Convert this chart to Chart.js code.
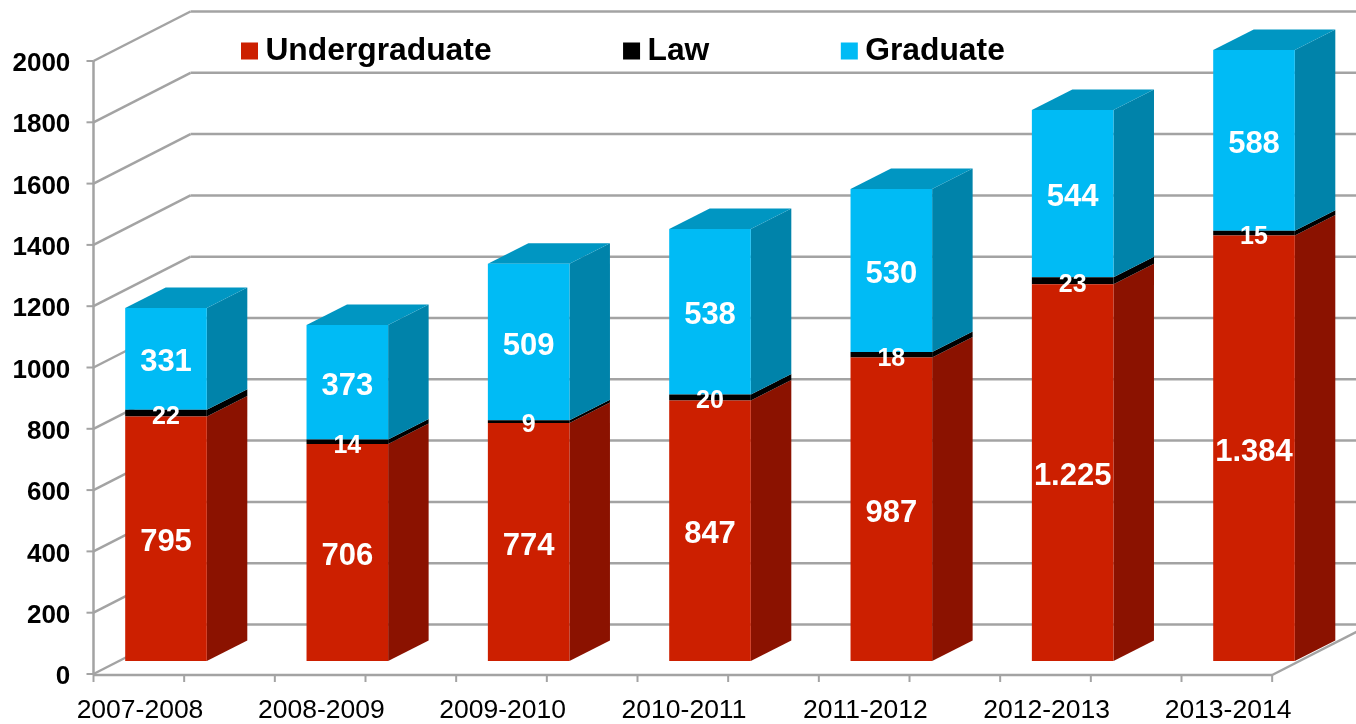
<!DOCTYPE html>
<html>
<head>
<meta charset="utf-8">
<title>Enrollment</title>
<script src="https://cdn.jsdelivr.net/npm/chart.js@4/dist/chart.umd.min.js"></script>
<style>
    html, body { margin: 0; padding: 0; background: #fff; }
    canvas { display: block; }
</style>
</head>
<body>
<canvas id="enrollment" width="1356" height="724"></canvas>
<script>
const years = ['2007-2008', '2008-2009', '2009-2010', '2010-2011', '2011-2012', '2012-2013', '2013-2014'];
const undergraduate = [795, 706, 774, 847, 987, 1225, 1384];
const law = [22, 14, 9, 20, 18, 23, 15];
const graduate = [331, 373, 509, 538, 530, 544, 588];
const yTicks = [0, 200, 400, 600, 800, 1000, 1200, 1400, 1600, 1800, 2000];

// fake 3d: how far the bars and the wall are pushed back
const barDepth = { x: 40.5, y: 20.5 };
const wallDepth = { x: 97, y: 49.5 };
const gridColor = '#a3a3a3';
const fontName = '"Liberation Sans", Arial, sans-serif';

const faces = [
    { front: '#cc1f00', side: '#8b1200', top: '#a31800' },
    { front: '#000000', side: '#000000', top: '#000000' },
    { front: '#00bbf5', side: '#0083aa', top: '#0096c2' }
];

function polygon(ctx, points, color) {
    ctx.fillStyle = color;
    ctx.beginPath();
    points.forEach((p, i) => i ? ctx.lineTo(p[0], p[1]) : ctx.moveTo(p[0], p[1]));
    ctx.closePath();
    ctx.fill();
}

function line(ctx, x1, y1, x2, y2, width) {
    ctx.lineWidth = width;
    ctx.beginPath();
    ctx.moveTo(x1, y1);
    ctx.lineTo(x2, y2);
    ctx.stroke();
}

const box3d = {
    id: 'box3d',
    beforeLayout(chart) {
        // keep the items in one row while the legend lives inside the chart area
        chart.legend.isHorizontal = () => true;
    },
    afterLayout(chart) {
        // the legend sits on the wall, not where the layout puts it
        const legend = chart.legend;
        const shift = 109.5;
        legend.left += shift;
        legend.right += shift;
        legend.top = -105;
        legend.bottom = legend.top + legend.height;
    },
    beforeDraw(chart) {
        // back wall, floor and axis lines
        const ctx = chart.ctx;
        const wall = chart.scales.y2;
        const x = chart.scales.x;
        const axisX = x.getPixelForValue(0) - 72.5;
        const zero = wall.getPixelForValue(0);
        const step = (x.getPixelForValue(1) - x.getPixelForValue(0)) / 2;
        const floorEnd = axisX + step * 13;
        ctx.save();
        ctx.strokeStyle = gridColor;
        yTicks.forEach(v => {
            const y = wall.getPixelForValue(v);
            line(ctx, axisX, y, axisX + wallDepth.x, y - wallDepth.y, 2.5);
            line(ctx, axisX + wallDepth.x, y - wallDepth.y, chart.width, y - wallDepth.y, 2.5);
            line(ctx, axisX - 7, y, axisX, y, 2);
        });
        line(ctx, axisX, wall.getPixelForValue(2000), axisX, zero + 1, 2.5);
        line(ctx, axisX, zero + 1, floorEnd, zero + 1, 2.5);
        line(ctx, floorEnd, zero + 1, floorEnd + wallDepth.x, zero + 1 - wallDepth.y, 2.5);
        for (let i = 0; i <= 13; i++) {
            line(ctx, axisX + step * i, zero + 1, axisX + step * i, zero + 8, 2);
        }
        ctx.restore();
    },
    beforeDatasetsDraw(chart) {
        const ctx = chart.ctx;
        chart.data.datasets.forEach((ds, d) => {
            chart.getDatasetMeta(d).data.forEach(bar => {
                const { x, y, base, width } = bar.getProps(['x', 'y', 'base', 'width'], true);
                const r = x + width / 2;
                const l = x - width / 2;
                polygon(ctx, [[r, y], [r + barDepth.x, y - barDepth.y], [r + barDepth.x, base - barDepth.y], [r, base]], faces[d].side);
                if (d === chart.data.datasets.length - 1) {
                    polygon(ctx, [[l, y], [l + barDepth.x, y - barDepth.y], [r + barDepth.x, y - barDepth.y], [r, y]], faces[d].top);
                }
            });
        });
    },
    afterDatasetsDraw(chart) {
        const ctx = chart.ctx;
        ctx.save();
        ctx.fillStyle = '#fff';
        ctx.textAlign = 'center';
        ctx.textBaseline = 'middle';
        chart.data.datasets.forEach((ds, d) => {
            const small = ds.label === 'Law';
            ctx.font = 'bold ' + (small ? 25 : 31) + 'px ' + fontName;
            chart.getDatasetMeta(d).data.forEach((bar, i) => {
                const { x, y, base } = bar.getProps(['x', 'y', 'base'], true);
                const text = ds.data[i].toLocaleString('de-DE');
                ctx.fillText(text, x, (y + base) / 2 + 4);
            });
        });
        ctx.restore();
    }
};

new Chart(document.getElementById('enrollment'), {
    type: 'bar',
    data: {
        labels: years,
        datasets: [
            { label: 'Undergraduate', data: undergraduate, backgroundColor: faces[0].front },
            { label: 'Law', data: law, backgroundColor: faces[1].front },
            { label: 'Graduate', data: graduate, backgroundColor: faces[2].front }
        ]
    },
    options: {
        responsive: false,
        animation: false,
        devicePixelRatio: 1,
        barPercentage: 0.45,
        categoryPercentage: 1,
        layout: { padding: { top: 5, right: 11.33, left: 0, bottom: 0 } },
        scales: {
            x: {
                stacked: true,
                grid: { display: false },
                border: { display: false },
                ticks: {
                    autoSkip: false,
                    maxRotation: 0,
                    labelOffset: -26,
                    padding: 7,
                    color: '#000',
                    font: { family: fontName, size: 26.5 }
                },
                afterFit(axis) {
                    axis.height = 44;
                    axis.paddingLeft = 0;
                    axis.paddingRight = 0;
                }
            },
            // scale of the bars, their floor sits a bit above the axis floor
            y: {
                stacked: true,
                display: false,
                min: -61.8,
                max: 2133.3
            },
            // scale printed on the left edge
            y2: {
                type: 'linear',
                axis: 'y',
                position: 'left',
                min: -19.6,
                max: 2182.7,
                grid: { display: false, drawTicks: false },
                border: { display: false },
                afterBuildTicks(axis) {
                    axis.ticks = yTicks.map(v => ({ value: v }));
                },
                ticks: {
                    autoSkip: false,
                    padding: 5,
                    labelOffset: 3,
                    color: '#000',
                    font: { family: fontName, size: 26, weight: 'bold' },
                    callback: v => String(v)
                },
                afterFit(axis) {
                    axis.width = 75.33;
                    axis.paddingTop = 0;
                    axis.paddingBottom = 0;
                }
            }
        },
        plugins: {
            tooltip: { enabled: false },
            legend: {
                position: 'chartArea',
                align: 'start',
                labels: {
                    usePointStyle: true,
                    pointStyle: 'rect',
                    boxWidth: 0.01,
                    boxHeight: 17,
                    padding: 140,
                    color: '#000',
                    font: { family: fontName, size: 31.8, weight: 'bold' }
                }
            }
        }
    },
    plugins: [box3d]
});
</script>
</body>
</html>
